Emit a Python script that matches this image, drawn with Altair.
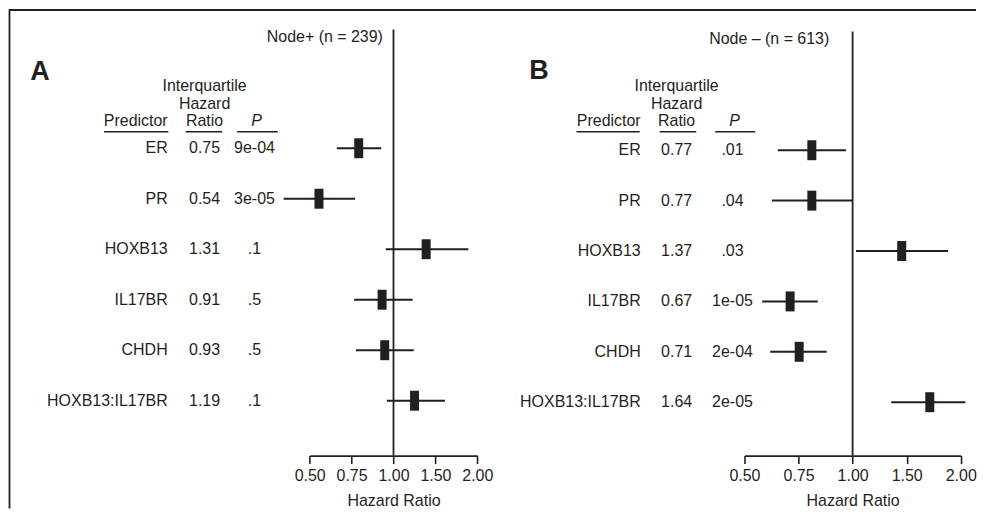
import altair as alt
import pandas as pd

# ---------------- data ----------------
predictors = ["ER", "PR", "HOXB13", "IL17BR", "CHDH", "HOXB13:IL17BR"]

# Panel A: Node+ (n = 239)
hr_a = [0.75, 0.54, 1.31, 0.91, 0.93, 1.19]
hr_a_text = ["0.75", "0.54", "1.31", "0.91", "0.93", "1.19"]
p_a = ["9e-04", "3e-05", ".1", ".5", ".5", ".1"]
lo_a = [0.626, 0.403, 0.938, 0.722, 0.733, 0.946]
hi_a = [0.903, 0.728, 1.857, 1.172, 1.182, 1.530]

# Panel B: Node - (n = 613)
hr_b = [0.77, 0.77, 1.37, 0.67, 0.71, 1.64]
hr_b_text = ["0.77", "0.77", "1.37", "0.67", "0.71", "1.64"]
p_b = [".01", ".04", ".03", "1e-05", "2e-04", "2e-05"]
lo_b = [0.619, 0.596, 1.022, 0.560, 0.590, 1.281]
hi_b = [0.958, 1.000, 1.844, 0.800, 0.847, 2.060]

tick_values = [0.5, 0.7071, 1.0, 1.4142, 2.0]
tick_labels = ["0.50", "0.75", "1.00", "1.50", "2.00"]

# ---------------- style ----------------
INK = "#231f20"
FONT = "Liberation Sans"
FS = 16
H = 447

# label expression built from the tick lists
expr = "'" + tick_labels[-1] + "'"
for i in range(len(tick_values) - 2, -1, -1):
    mid = (tick_values[i] + tick_values[i + 1]) / 2
    expr = f"datum.value < {mid:.4f} ? '{tick_labels[i]}' : ({expr})"

AXIS = alt.Axis(
    values=tick_values, labelExpr=expr, title="Hazard Ratio",
    grid=False, tickSize=8, tickWidth=1.6, domainWidth=1.6,
    domainColor=INK, tickColor=INK, labelColor=INK, titleColor=INK,
    labelFont=FONT, titleFont=FONT, labelFontSize=FS, titleFontSize=FS,
    titleFontWeight="normal", labelPadding=4, titlePadding=9,
    labelFlush=False, labelOverlap=False,
)

one = pd.DataFrame({"one": [1.0]})


def label(text, x, y, align="center", size=FS, **kw):
    return alt.Chart(one).mark_text(
        text=text, align=align, baseline="alphabetic", fontSize=size,
        color=INK, font=FONT, **kw
    ).encode(x=alt.value(x), y=alt.value(y))


def hline(x1, x2, y, width=1.5):
    return alt.Chart(one).mark_rule(color=INK, strokeWidth=width).encode(
        x=alt.value(x1), x2=alt.value(x2), y=alt.value(y)
    )


def panel(L, hr, hr_text, p, lo, hi):
    df = pd.DataFrame({
        "predictor": predictors, "hr": hr, "hr_text": hr_text,
        "p": p, "lo": lo, "hi": hi, "row": list(range(len(predictors))),
    })
    d0 = -L["row0"] / L["step"]
    d1 = d0 + H / L["step"]
    ys = alt.Scale(domain=[d0, d1], reverse=True, nice=False, zero=False)
    xs = alt.Scale(type="log", domain=[0.5, 2.0], range=L["xrange"], nice=False)
    base = alt.Chart(df)

    bars = base.mark_rule(color=INK, strokeWidth=2).encode(
        x=alt.X("lo:Q", scale=xs, axis=AXIS),
        x2="hi:Q",
        y=alt.Y("row:Q", scale=ys, axis=None),
    )
    boxes = base.mark_tick(orient="vertical", size=20, thickness=9,
                           color=INK, opacity=1).encode(
        x=alt.X("hr:Q", scale=xs, axis=AXIS), y=alt.Y("row:Q", scale=ys, axis=None)
    )
    vline = alt.Chart(one).mark_rule(color=INK, strokeWidth=1.8).encode(
        x=alt.X("one:Q", scale=xs, axis=AXIS), y=alt.value(L["vtop"]), y2=alt.value(H)
    )
    txt = dict(baseline="middle", fontSize=FS, color=INK, font=FONT)
    col_pred = base.mark_text(align="right", **txt).encode(
        x=alt.value(L["pred_x"]), y=alt.Y("row:Q", scale=ys, axis=None), text="predictor:N")
    col_hr = base.mark_text(align="center", **txt).encode(
        x=alt.value(L["ratio_x"]), y=alt.Y("row:Q", scale=ys, axis=None), text="hr_text:N")
    col_p = base.mark_text(align="center", **txt).encode(
        x=alt.value(L["p_x"]), y=alt.Y("row:Q", scale=ys, axis=None), text="p:N")

    layers = [
        bars, boxes, vline, col_pred, col_hr, col_p,
        hline(0, L["width"], 0.5, width=1.8),
        label(L["letter"], L["letter_x"], L["letter_y"], size=27, fontWeight="bold"),
        label(L["title"], L["title_x"], L["title_y"], align="right"),
        label("Interquartile", L["ratio_x"], 82),
        label("Hazard", L["ratio_x"], 100),
        label("Predictor", L["pred_x"], 117, align="right"),
        label("Ratio", L["ratio_x"], 117),
        label("P", L["p_x"] + 2, 117, fontStyle="italic"),
    ]
    for a, b in L["ulines"]:
        layers.append(hline(a, b, 122.5))
    if L.get("left_frame"):
        layers.append(alt.Chart(one).mark_rule(color=INK, strokeWidth=1.8).encode(
            x=alt.value(0.5), y=alt.value(0), y2=alt.value(500)))
    return alt.layer(*layers).properties(width=L["width"], height=H)


LA = dict(width=482, xrange=[301.3, 469.3], row0=139, step=50.6, vtop=20,
          letter="A", letter_x=31, letter_y=70.5,
          title="Node+ (n = 239)", title_x=374.7, title_y=33,
          pred_x=159, ratio_x=196, p_x=246,
          ulines=[(95.3, 159.7), (177, 213.7), (228.7, 269.3)], left_frame=True)
LB = dict(width=487, xrange=[255, 471.7], row0=141, step=50.5, vtop=22,
          letter="B", letter_x=49, letter_y=70,
          title="Node \u2013 (n = 613)", title_x=340, title_y=34.5,
          pred_x=151, ratio_x=187, p_x=243,
          ulines=[(86.7, 150), (170, 206.7), (225.7, 265.7)])

pa = panel(LA, hr_a, hr_a_text, p_a, lo_a, hi_a)
pb = panel(LB, hr_b, hr_b_text, p_b, lo_b, hi_b)

chart = alt.hconcat(pa, pb, spacing=0, bounds="flush").properties(
    padding=0
).configure(font=FONT, view=alt.ViewConfig(stroke=None))

chart.save("out.html", embed_options={"renderer": "svg", "actions": False})
